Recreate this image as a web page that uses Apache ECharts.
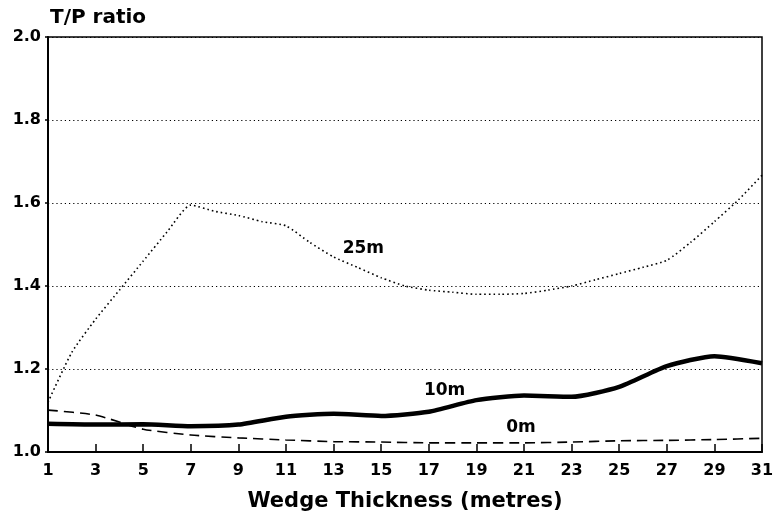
<!DOCTYPE html>
<html>
<head>
<meta charset="utf-8">
<script src="https://cdn.jsdelivr.net/npm/echarts@6/dist/echarts.min.js"></script>
<style>
html,body{margin:0;padding:0;background:#fff;}
#chart{width:773px;height:516px;}
</style>
</head>
<body>
<div id="chart"></div>
<script>
// Wedge thickness categories (metres)
const thickness = ['1','2','3','4','5','6','7','8','9','10','11','12','13','14','15','16','17','18','19','20','21','22','23','24','25','26','27','28','29','30','31'];
// odd thickness values where 10m / 0m curves were read
const oddThickness = [1,3,5,7,9,11,13,15,17,19,21,23,25,27,29,31];
// 25m curve (all integer thicknesses)
const tp25 = [1.12,1.24,1.32,1.39,1.46,1.53,1.595,1.58,1.57,1.555,1.545,1.505,1.47,1.445,1.42,1.40,1.39,1.385,1.38,1.38,1.382,1.39,1.40,1.415,1.43,1.445,1.462,1.505,1.555,1.607,1.667];
// 10m curve (odd thicknesses)
const tp10 = [1.068,1.066,1.067,1.062,1.066,1.085,1.092,1.087,1.097,1.125,1.136,1.133,1.157,1.207,1.231,1.214];
// 0m curve (odd thicknesses)
const tp0 = [1.101,1.089,1.055,1.041,1.034,1.029,1.025,1.024,1.022,1.022,1.022,1.024,1.027,1.028,1.030,1.033];
const yTicks = ['1.0','1.2','1.4','1.6','1.8','2.0'];

function pad(vals){
  const out = thickness.map(() => null);
  oddThickness.forEach((t, i) => { out[thickness.indexOf(String(t))] = vals[i]; });
  return out;
}

const FONT = 'DejaVu Sans';
const chart = echarts.init(document.getElementById('chart'));
const lblStyle = {show:true, color:'#000', fontFamily:FONT, fontWeight:'bold', fontSize:17};

chart.setOption({
  animation:false,
  backgroundColor:'#fff',
  grid:{left:48, right:11, top:37, bottom:64, outerBoundsMode:'none', containLabel:false,
        show:true, borderColor:'#000', borderWidth:1.5, backgroundColor:'transparent'},
  xAxis:{
    type:'category', data:thickness, boundaryGap:false,
    name:'Wedge Thickness (metres)', nameLocation:'middle', nameGap:39,
    nameTextStyle:{color:'#000', fontFamily:FONT, fontWeight:'bold', fontSize:21},
    axisLine:{lineStyle:{color:'#000', width:2}},
    axisTick:{show:true, inside:true, length:8, interval:1, lineStyle:{color:'#000', width:1.5}},
    axisLabel:{interval:1, color:'#000', fontFamily:FONT, fontWeight:'bold', fontSize:16, margin:11},
    splitLine:{show:false}
  },
  yAxis:{
    type:'value', min:1.0, max:2.0, interval:0.2,
    name:'T/P ratio', nameLocation:'end', nameGap:9,
    nameTextStyle:{color:'#000', fontFamily:FONT, fontWeight:'bold', fontSize:20, align:'left', padding:[0,0,0,2]},
    axisLine:{show:true, lineStyle:{color:'#000', width:2}},
    axisTick:{show:true, length:3, lineStyle:{color:'#000', width:1.5}},
    axisLabel:{color:'#000', fontFamily:FONT, fontWeight:'bold', fontSize:16, margin:7,
      formatter:v => yTicks.find(t => Math.abs(parseFloat(t)-v) < 1e-6) || v.toFixed(1)},
    splitLine:{show:true, lineStyle:{color:'#000', width:1.2, type:[1.2,3]}}
  },
  series:[
    {name:'25m', type:'line', data:tp25, showSymbol:false, symbol:'none', smooth:0.2,
     lineStyle:{color:'#000', width:1.6, type:[1.6,3]},
     markPoint:{symbol:'circle', symbolSize:0, silent:true,
       label:Object.assign({}, lblStyle, {position:'inside', formatter:'{b}', offset:[6,0]}),
       data:[{name:'25m', coord:['14', 1.489]}]}},
    {name:'10m', type:'line', data:pad(tp10), connectNulls:true, showSymbol:false, symbol:'none', smooth:0.2,
     lineStyle:{color:'#000', width:4.5},
     markPoint:{symbol:'circle', symbolSize:0, silent:true,
       label:Object.assign({}, lblStyle, {position:'inside', formatter:'{b}', offset:[-8,0]}),
       data:[{name:'10m', coord:['18', 1.149]}]}},
    {name:'0m', type:'line', data:pad(tp0), connectNulls:true, showSymbol:false, symbol:'none', smooth:0.2,
     lineStyle:{color:'#000', width:1.6, type:[10,6]},
     markPoint:{symbol:'circle', symbolSize:0, silent:true,
       label:Object.assign({}, lblStyle, {position:'inside', formatter:'{b}', offset:[-3,0]}),
       data:[{name:'0m', coord:['21', 1.060]}]}}
  ]
});
</script>
</body>
</html>
